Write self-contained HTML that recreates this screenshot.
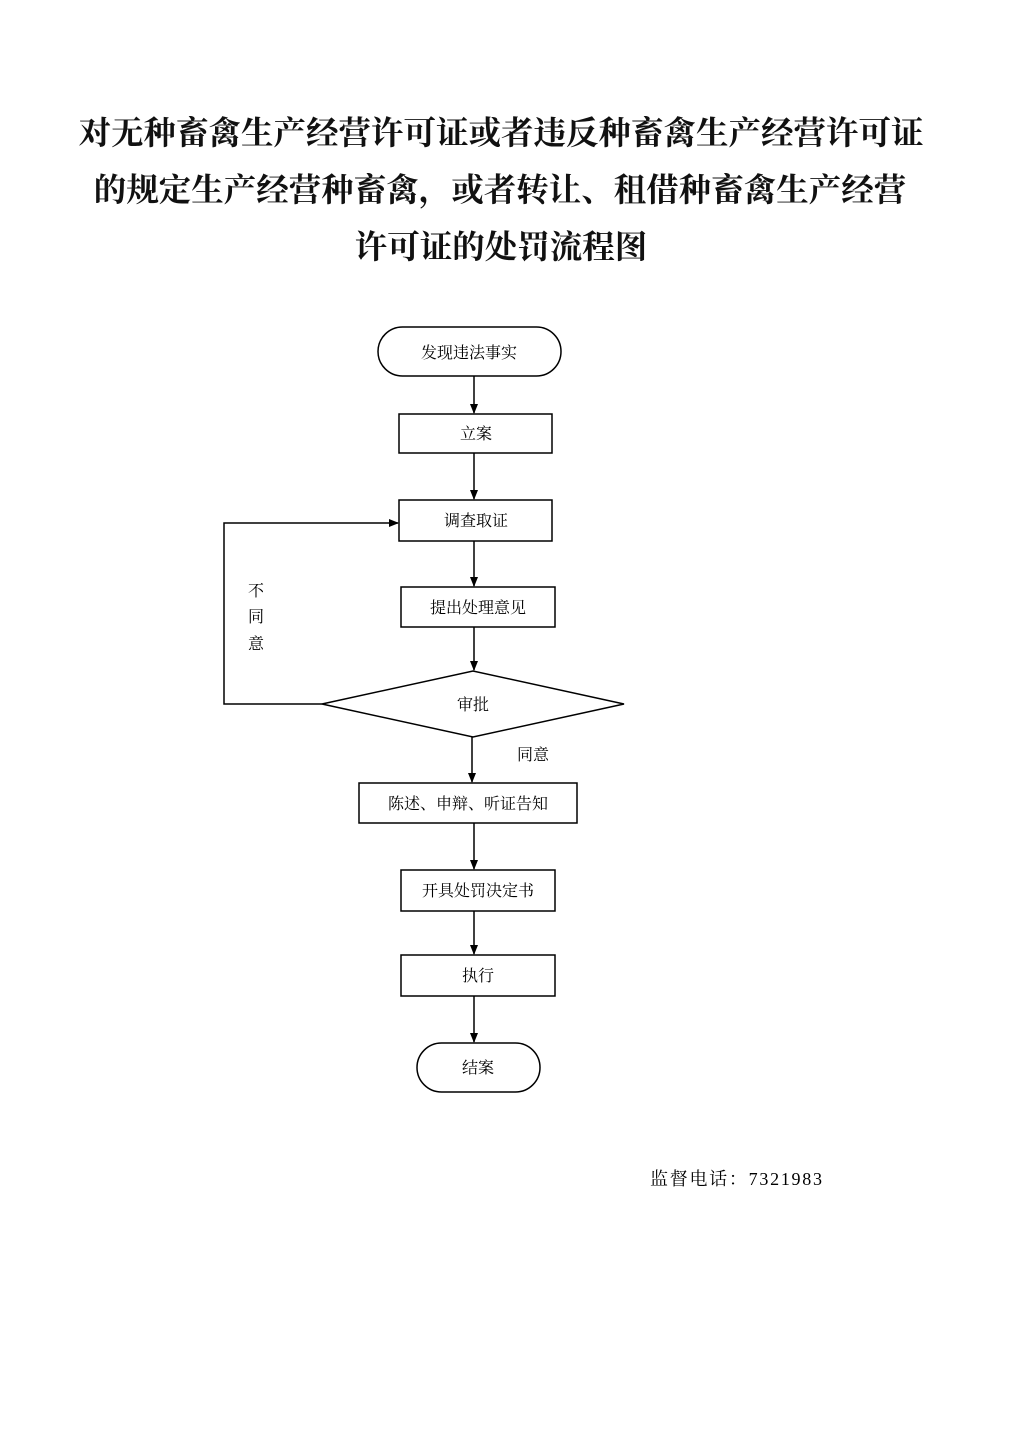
<!DOCTYPE html>
<html><head><meta charset="utf-8"><style>
html,body{margin:0;padding:0;background:#fff;}
svg{display:block;}
</style></head><body>
<svg width="1024" height="1448" viewBox="0 0 1024 1448" xmlns="http://www.w3.org/2000/svg" font-family="'Liberation Serif','Noto Serif CJK SC',serif">
<defs><marker id="a" markerWidth="10" markerHeight="10" refX="9" refY="5" orient="auto" markerUnits="userSpaceOnUse"><path d="M0,1 L10,5 L0,9 z" fill="#000"/></marker></defs>
<g font-weight="bold" font-size="32.5" text-anchor="middle" fill="#111">
<text x="501" y="144">对无种畜禽生产经营许可证或者违反种畜禽生产经营许可证</text>
<text x="500" y="201">的规定生产经营种畜禽，或者转让、租借种畜禽生产经营</text>
<text x="501" y="258">许可证的处罚流程图</text>
</g>
<g fill="none" stroke="#000" stroke-width="1.5">
<rect x="378" y="327" width="183" height="49" rx="24.5"/>
<rect x="399" y="414" width="153" height="39"/>
<rect x="399" y="500" width="153" height="41"/>
<rect x="401" y="587" width="154" height="40"/>
<polygon points="322,704 473,671 624,704 473,737"/>
<rect x="359" y="783" width="218" height="40"/>
<rect x="401" y="870" width="154" height="41"/>
<rect x="401" y="955" width="154" height="41"/>
<rect x="417" y="1043" width="123" height="49" rx="24.5"/>
<line x1="474" y1="376" x2="474" y2="413" marker-end="url(#a)"/>
<line x1="474" y1="453" x2="474" y2="499" marker-end="url(#a)"/>
<line x1="474" y1="541" x2="474" y2="586" marker-end="url(#a)"/>
<line x1="474" y1="627" x2="474" y2="670" marker-end="url(#a)"/>
<line x1="472" y1="737" x2="472" y2="782" marker-end="url(#a)"/>
<line x1="474" y1="823" x2="474" y2="869" marker-end="url(#a)"/>
<line x1="474" y1="911" x2="474" y2="954" marker-end="url(#a)"/>
<line x1="474" y1="996" x2="474" y2="1042" marker-end="url(#a)"/>
<polyline points="322,704 224,704 224,523 398,523" marker-end="url(#a)"/>
</g>
<g font-size="16" text-anchor="middle" fill="#000">
<text x="469" y="358">发现违法事实</text>
<text x="476" y="439">立案</text>
<text x="476" y="526">调查取证</text>
<text x="478" y="613">提出处理意见</text>
<text x="473" y="710">审批</text>
<text x="533" y="760">同意</text>
<text x="468" y="809">陈述、申辩、听证告知</text>
<text x="478" y="896">开具处罚决定书</text>
<text x="478" y="981">执行</text>
<text x="478" y="1073">结案</text>
<text x="256" y="596">不</text>
<text x="256" y="622">同</text>
<text x="256" y="649">意</text>
</g>
<text x="650" y="1185" font-size="18" fill="#000" textLength="172" lengthAdjust="spacing">监督电话：7321983</text>
</svg>
</body></html>
